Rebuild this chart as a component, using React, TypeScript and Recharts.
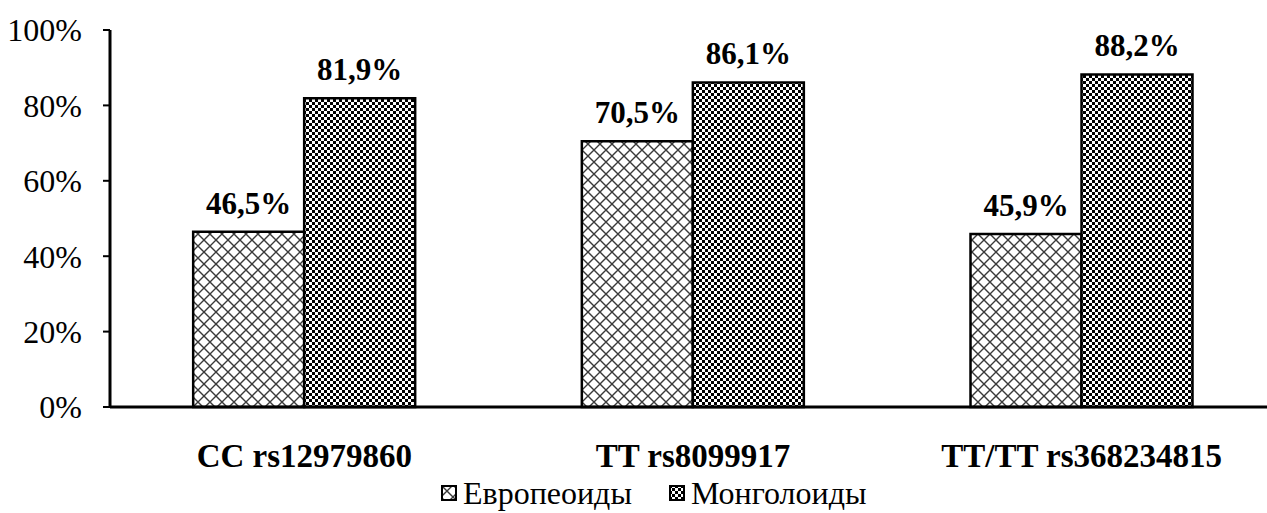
import React from "react";
import { BarChart, Bar, XAxis, YAxis, Legend, LabelList } from "recharts";

const categories = ["CC rs12979860", "TT rs8099917", "TT/TT rs368234815"];
const europeoidValues = [46.5, 70.5, 45.9];
const mongoloidValues = [81.9, 86.1, 88.2];
const yTicks = [0, 20, 40, 60, 80, 100];
const seriesNames = ["Европеоиды", "Монголоиды"];

const data = categories.map((name, i) => ({
  name,
  eur: europeoidValues[i],
  mon: mongoloidValues[i],
}));

const FONT = "Liberation Serif";

const fmtLabel = (v: any) => `${Number(v).toFixed(1).replace(".", ",")}%`;

const Patterns = ({ prefix }: { prefix: string }) => (
  <defs>
    <pattern id={`${prefix}-cross`} width="12" height="12" patternUnits="userSpaceOnUse">
      <rect width="12" height="12" fill="#fff" />
      <path d="M0,0 L12,12 M12,0 L0,12" stroke="#3a3a3a" strokeWidth="1.4" />
    </pattern>
    <pattern id={`${prefix}-checker`} width="6" height="6" patternUnits="userSpaceOnUse">
      <rect width="6" height="6" fill="#fff" />
      <rect x="0" y="0" width="3" height="3" fill="#000" />
      <rect x="3" y="3" width="3" height="3" fill="#000" />
    </pattern>
  </defs>
);

const LegendContent = () => (
  <div
    style={{
      display: "flex",
      alignItems: "center",
      marginLeft: 441,
      height: 32,
      paddingTop: 4,
      fontFamily: FONT,
      fontSize: 32,
      lineHeight: "32px",
      color: "#000",
    }}
  >
    {seriesNames.map((n, i) => (
      <div key={n} style={{ display: "flex", alignItems: "center", marginRight: 37 }}>
        <svg width={16} height={16} style={{ marginRight: 6 }}>
          <Patterns prefix={`lg${i}`} />
          <rect
            x={1}
            y={1}
            width={14}
            height={14}
            fill={`url(#lg${i}-${i === 0 ? "cross" : "checker"})`}
            stroke="#000"
            strokeWidth={2}
          />
        </svg>
        <span>{n}</span>
      </div>
    ))}
  </div>
);

export default function App() {
  return (
    <div
      style={{
        position: "absolute",
        left: 0,
        top: 0,
        width: 1267,
        height: 513,
        overflow: "hidden",
        background: "#fff",
        fontFamily: FONT,
      }}
    >
      <BarChart
        width={1276}
        height={513}
        data={data}
        margin={{ top: 30, right: 0, left: 0, bottom: 0 }}
        barCategoryGap="21.4%"
        barGap={0}
        style={{ fontFamily: FONT }}
      >
        <Patterns prefix="ch" />
        <XAxis
          dataKey="name"
          axisLine={{ stroke: "#000", strokeWidth: 3 }}
          tickLine={false}
          tickSize={0}
          tickMargin={37}
          height={66}
          tick={{ fill: "#000", fontSize: 33, fontWeight: "bold", fontFamily: FONT }}
        />
        <YAxis
          domain={[0, 100]}
          ticks={yTicks}
          width={110}
          axisLine={{ stroke: "#000", strokeWidth: 3 }}
          tickLine={{ stroke: "#000", strokeWidth: 2 }}
          tickSize={7}
          tickMargin={21}
          tickFormatter={(v: number) => `${v}%`}
          tick={{ fill: "#000", fontSize: 32, fontFamily: FONT }}
          interval={0}
        />
        <Legend
          verticalAlign="bottom"
          height={40}
          content={<LegendContent />}
          wrapperStyle={{ left: 0, width: 1267, bottom: 0, height: 40 }}
        />
        <Bar
          dataKey="eur"
          name={seriesNames[0]}
          fill="url(#ch-cross)"
          stroke="#000"
          strokeWidth={2.5}
          isAnimationActive={false}
        >
          <LabelList
            dataKey="eur"
            position="top"
            offset={18}
            formatter={fmtLabel}
            style={{ fill: "#000", fontSize: 31, fontWeight: "bold", fontFamily: FONT }}
          />
        </Bar>
        <Bar
          dataKey="mon"
          name={seriesNames[1]}
          fill="url(#ch-checker)"
          stroke="#000"
          strokeWidth={2.5}
          isAnimationActive={false}
        >
          <LabelList
            dataKey="mon"
            position="top"
            offset={18}
            formatter={fmtLabel}
            style={{ fill: "#000", fontSize: 31, fontWeight: "bold", fontFamily: FONT }}
          />
        </Bar>
      </BarChart>
    </div>
  );
}
